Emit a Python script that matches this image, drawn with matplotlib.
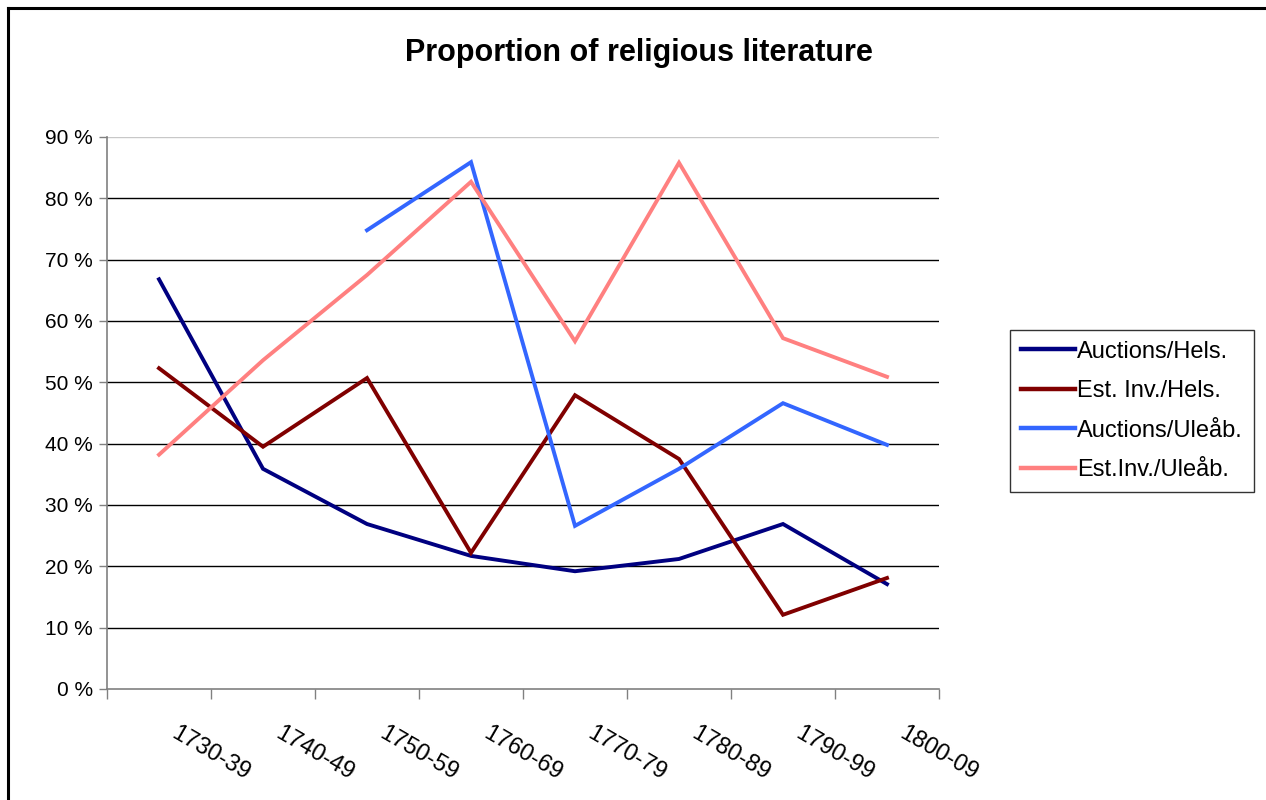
import matplotlib
matplotlib.use("Agg")
import matplotlib.pyplot as plt
from matplotlib.lines import Line2D
import numpy as np

plt.rcParams['font.family'] = ['Liberation Sans', 'DejaVu Sans']

decades = ["1730-39", "1740-49", "1750-59", "1760-69", "1770-79", "1780-89", "1790-99", "1800-09"]
auctions_hels = [66.8, 35.9, 26.9, 21.7, 19.2, 21.2, 26.9, 17.1]
est_inv_hels = [52.3, 39.5, 50.7, 22.2, 47.9, 37.5, 12.1, 18.1]
auctions_uleab = [np.nan, np.nan, 74.8, 85.9, 26.6, 35.9, 46.6, 39.8]
est_inv_uleab = [38.2, 53.6, 67.5, 82.7, 56.7, 85.8, 57.2, 50.9]
series_names = ["Auctions/Hels.", "Est. Inv./Hels.", "Auctions/Uleåb.", "Est.Inv./Uleåb."]
series_colors = ["#000080", "#800000", "#3366FF", "#FF8080"]
y_ticks = [0, 10, 20, 30, 40, 50, 60, 70, 80, 90]

fig = plt.figure(figsize=(12.66, 8.0), dpi=100)
ax = fig.add_axes([107/1266, 1 - 689/800, (939 - 107)/1266, (689 - 137)/800])

x = np.arange(len(decades))
for vals, name, col in zip([auctions_hels, est_inv_hels, auctions_uleab, est_inv_uleab],
                           series_names, series_colors):
    ax.plot(x, vals, color=col, lw=2.8, label=name, solid_joinstyle='miter', zorder=3)

ax.set_xlim(-0.5, len(decades) - 0.5)
ax.set_ylim(0, 90)

# horizontal gridlines
for t in y_ticks[1:]:
    ax.axhline(t, color="#000000" if t < 90 else "#c8c8c8", lw=1.0, zorder=1)

for side in ["top", "right"]:
    ax.spines[side].set_visible(False)
for side in ["left", "bottom"]:
    ax.spines[side].set_color("#808080")
    ax.spines[side].set_linewidth(1.2)

ax.set_yticks(y_ticks)
ax.set_yticklabels([f"{t} %" for t in y_ticks], fontsize=15)
ax.tick_params(axis='y', length=6, width=1, color="#808080", pad=4, direction='out')

# category tick marks at bin edges
ax.set_xticks(np.arange(-0.5, len(decades)), minor=False)
ax.set_xticklabels([])
ax.tick_params(axis='x', length=7, width=1, color="#808080", direction='out')
for xi, lab in zip(x, decades):
    ax.annotate(lab, xy=(xi, 0), xycoords='data', xytext=(14, -24), textcoords='offset points',
                rotation=-30, rotation_mode='anchor', ha='left', va='top', fontsize=17,
                annotation_clip=False)

fig.text(639/1266, 1 - 53/800, "Proportion of religious literature", ha='center', va='center',
         fontsize=22, fontweight='bold')

leg = ax.legend(loc='upper left', bbox_to_anchor=(1010/1266, 1 - 330/800),
                bbox_transform=fig.transFigure, frameon=True, fancybox=False,
                fontsize=17, handlelength=2.3, handletextpad=0.1, labelspacing=0.74,
                borderpad=0.45, borderaxespad=0)
leg.get_frame().set_edgecolor("#000000")
leg.get_frame().set_linewidth(1.0)
for h in leg.get_lines():
    h.set_linewidth(3.2)

# outer chart border (left and top edges)
fig.add_artist(Line2D([8/1266, 8/1266], [0, 1 - 8/800], color='black', lw=2.2,
                      transform=fig.transFigure))
fig.add_artist(Line2D([8/1266, 1], [1 - 8/800, 1 - 8/800], color='black', lw=2.2,
                      transform=fig.transFigure))

fig.savefig("out.png", dpi=100, facecolor='white')
